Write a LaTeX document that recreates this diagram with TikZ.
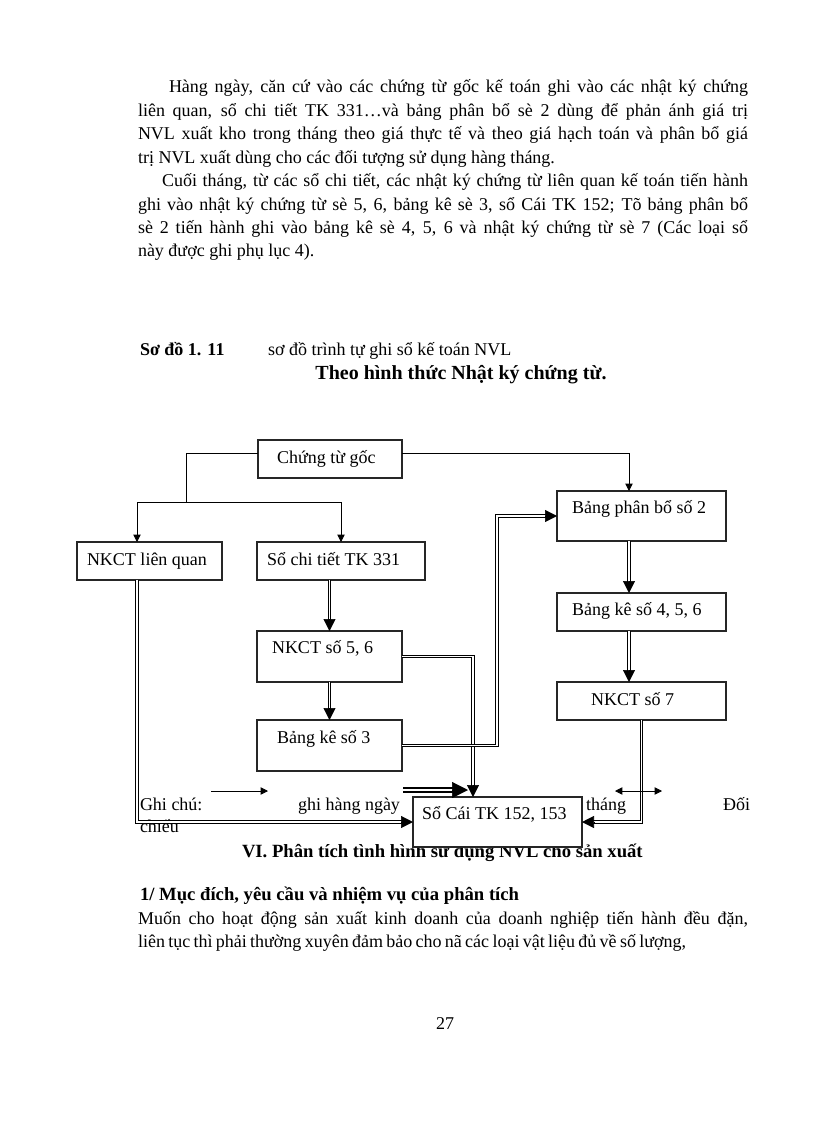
\documentclass[tikz,border=0pt]{standalone}
\usepackage{fontspec}
\setmainfont{Liberation Serif}
\usetikzlibrary{arrows.meta,calc}
\begin{document}
\begin{tikzpicture}[x=0.75pt,y=-0.75pt,
  every node/.style={inner sep=0pt, outer sep=0pt, font=\fontsize{13.5}{17}\selectfont},
  txt/.style={anchor=base west},
  box/.style={draw=black!85, line width=0.8pt, fill=white, anchor=north west, inner sep=0pt},
  sline/.style={line width=0.6pt},
  sarrow/.style={line width=0.6pt, -{Triangle[length=5.5pt,width=5.5pt]}},
  darrow/.style={line width=0.6pt, {Triangle[length=5.5pt,width=5.5pt]}-{Triangle[length=5.5pt,width=5.5pt]}},
  dbl/.style={line width=0.55pt, double=white, double distance=1.3pt, shorten >=8pt},
  dbltip/.style={line width=0.4pt, -{Triangle[length=9pt,width=9pt]}},
]
\useasboundingbox (0,0) rectangle (816,1123);
\fill[white] (0,0) rectangle (816,1123);

% ---------- paragraph text ----------
\node[txt] (l1) at (169,93) {\makebox[434.25pt][s]{Hàng ngày, căn cứ vào các chứng từ gốc kế toán ghi vào các nhật ký chứng}};
\node[txt] (l2) at (138,116.4) {\makebox[457.5pt][s]{liên  quan, sổ chi tiết  TK 331…và bảng phân bổ sè 2 dùng để phản ánh giá trị}};
\node[txt] (l3) at (138,139.8) {\makebox[457.5pt][s]{NVL xuất kho trong tháng theo giá thực tế và theo giá hạch toán và phân bổ giá}};
\node[txt] (l4) at (138,163.2) {trị NVL xuất dùng cho các đối tượng sử dụng hàng tháng.};
\node[txt] (l5) at (162,186.6) {\makebox[439.5pt][s]{Cuối tháng, từ các sổ chi tiết, các nhật ký chứng từ liên  quan kế toán tiến hành}};
\node[txt] (l6) at (138,210) {\makebox[457.5pt][s]{ghi vào nhật ký chứng từ sè 5, 6, bảng kê sè 3, sổ Cái TK 152; Tõ bảng phân bổ}};
\node[txt] (l7) at (138,233.4) {\makebox[457.5pt][s]{sè 2 tiến hành ghi vào bảng kê sè 4, 5, 6 và nhật ký chứng từ sè 7 (Các loại sổ}};
\node[txt] (l8) at (138,256.8) {này được ghi phụ lục 4).};

% ---------- caption ----------
\node[txt,font=\fontsize{13.5}{17}\selectfont\bfseries] (cap1) at (140,355) {Sơ đồ 1. 11};
\node[txt] (cap2) at (268,355) {sơ đồ trình tự ghi  sổ kế toán NVL};
\node[anchor=base,font=\fontsize{15}{18}\selectfont\bfseries] (cap3) at (461,379) {Theo hình thức Nhật ký chứng từ.};

% ---------- text under the diagram ----------
\node[txt] (lgT1) at (140,810) {Ghi chú:};
\node[txt] (lgT2) at (298,810) {ghi hàng ngày};
\node[anchor=base east] (lgT3) at (626,810) {tháng};
\node[anchor=base east] (lgT4) at (750,810) {Đối};
\node[txt] (lgT5) at (140,832) {chiếu};
\node[txt,font=\fontsize{14}{17}\selectfont\bfseries] (h6) at (242,857) {VI. Phân tích tình hình sử dụng NVL cho sản xuất};
\node[txt,font=\fontsize{14}{17}\selectfont\bfseries] (h61) at (140,900) {1/ Mục đích, yêu cầu và nhiệm vụ của phân tích};
\node[txt] (m1) at (138,924) {\makebox[457.5pt][s]{Muốn cho hoạt động sản xuất kinh doanh của doanh nghiệp tiến hành đều đặn,}};
\node[txt] (m2) at (138,947) {\makebox[411pt][s]{liên  tục thì phải thường xuyên đảm bảo cho nã các loại vật liệu  đủ về số lượng,}};
\node[anchor=base] (pg) at (445,1029) {27};

% ---------- column / row helpers ----------
\coordinate (xL) at (137,0);
\coordinate (xJ) at (186,0);
\coordinate (yJ) at (0,502);
\coordinate (xR) at (629,0);
\coordinate (x473) at (473,0);
\coordinate (x497) at (497,0);

% ---------- boxes ----------
\node[box, minimum width=108pt, minimum height=28.5pt] (ctg) at (258,440) {};
\node[box, minimum width=108.75pt, minimum height=28.5pt] (nklq) at (77,542) {};
\node[box, minimum width=126pt, minimum height=28.5pt] (sct) at (257,542) {};
\node[box, minimum width=126.75pt, minimum height=37.5pt] (bpb) at (557,491) {};
\node[box, minimum width=126.75pt, minimum height=28.5pt] (bk456) at (557,593) {};
\node[box, minimum width=126.75pt, minimum height=28.5pt] (nk7) at (557,682) {};
\node[box, minimum width=108.75pt, minimum height=38.25pt] (nk56) at (257,631) {};
\node[box, minimum width=108.75pt, minimum height=38.25pt] (bk3) at (257,720) {};
\node[box, minimum width=126.75pt, minimum height=37.5pt] (sc) at (413,797) {};

% box texts
\node[txt] (tctg) at (277,463) {Chứng từ gốc};
\node[txt] (tnklq) at (87,565) {NKCT liên quan};
\node[txt] (tsct) at (267,565) {Sổ chi tiết TK 331};
\node[txt] (tbpb) at (572,513) {Bảng phân bổ số 2};
\node[txt] (tbk456) at (572,615) {Bảng kê số 4, 5, 6};
\node[txt] (tnk7) at (591,705) {NKCT số 7};
\node[txt] (tnk56) at (272,653) {NKCT số 5, 6};
\node[txt] (tbk3) at (277,743) {Bảng kê số 3};
\node[txt] (tsc) at (422,819) {Sổ Cái TK 152, 153};

% ---------- single connectors from Chứng từ gốc ----------
\coordinate (ctgL) at ([yshift=-9.75pt]ctg.north west);
\coordinate (ctgR) at ([yshift=-9.75pt]ctg.north east);
\draw[sline] (ctgL) -| (xJ |- yJ);
\draw[sline] (xL |- yJ) -- (sct.north |- yJ);
\draw[sarrow] (xL |- yJ) -- (nklq.north -| xL);
\draw[sarrow] (sct.north |- yJ) -- (sct.north);
\draw[sarrow] (ctgR) -| (bpb.north -| xR);

% ---------- double connectors ----------
\coordinate (bk456In) at (bk456.north -| xR);
\coordinate (nk7In) at (nk7.north -| xR);
\coordinate (scIn) at (sc.north -| x473);
\coordinate (sctOut) at (sct.south -| nk56.north);

\draw[dbl] (sctOut) -- (nk56.north);
\draw[dbltip] ([yshift=9pt]nk56.north) -- (nk56.north);

\draw[dbl] (nk56.south) -- (bk3.north);
\draw[dbltip] ([yshift=9pt]bk3.north) -- (bk3.north);

\draw[dbl] (bpb.south -| xR) -- (bk456In);
\draw[dbltip] ([yshift=9pt]bk456In) -- (bk456In);

\draw[dbl] (bk456.south -| xR) -- (nk7In);
\draw[dbltip] ([yshift=9pt]nk7In) -- (nk7In);

\draw[dbl] (nk56.east) -| (scIn);
\draw[dbltip] ([yshift=9pt]scIn) -- (scIn);

\draw[dbl] (bk3.east) -| (x497 |- bpb.west) -- (bpb.west);
\draw[dbltip] ([xshift=-9pt]bpb.west) -- (bpb.west);

\draw[dbl] (nklq.south -| xL) |- (sc.west);
\draw[dbltip] ([xshift=-9pt]sc.west) -- (sc.west);

\draw[dbl] (nk7.south) |- (sc.east);
\draw[dbltip] ([xshift=9pt]sc.east) -- (sc.east);

% ---------- legend symbols ----------
\coordinate (lgS1) at (211,791);
\coordinate (lgS2) at (268,791);
\draw[sarrow] (lgS1) -- (lgS2);
\coordinate (lgD1) at (403,790);
\coordinate (lgD2) at (468,790);
\draw[line width=1.1pt, double=white, double distance=1.6pt, shorten >=11pt] (lgD1) -- (lgD2);
\draw[line width=0.4pt, -{Triangle[length=12pt,width=12pt]}] ([xshift=-12pt]lgD2) -- (lgD2);
\coordinate (lgB1) at (615,791);
\coordinate (lgB2) at (662,791);
\draw[darrow] (lgB1) -- (lgB2);
\end{tikzpicture}
\end{document}
